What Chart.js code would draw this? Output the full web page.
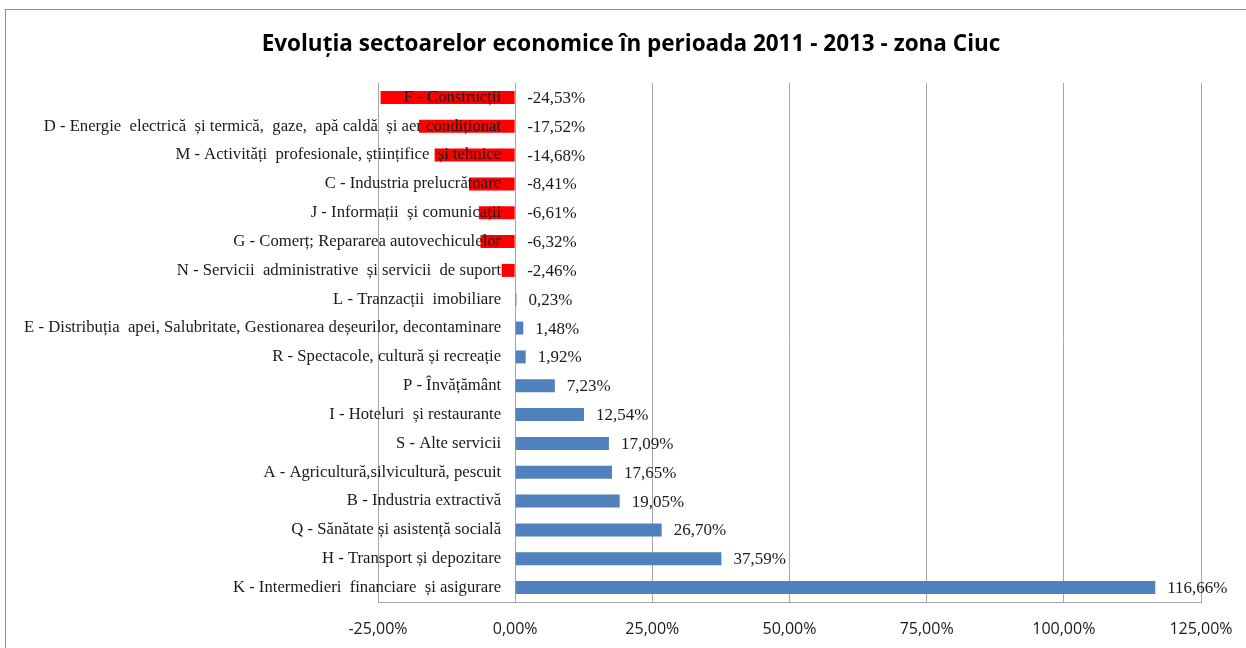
<!DOCTYPE html>
<html>
<head>
<meta charset="utf-8">
<script src="https://cdn.jsdelivr.net/npm/chart.js@4/dist/chart.umd.min.js"></script>
<style>
  html, body { margin: 0; padding: 0; background: #fff; }
  #wrap { position: relative; width: 1246px; height: 648px; overflow: hidden; }
</style>
</head>
<body>
<div id="wrap"><canvas id="c" width="1246" height="648"></canvas></div>
<script>
/* sector change 2011-2013, zona Ciuc */
const sectors = [
  'F - Construcții',
  'D - Energie  electrică  și termică,  gaze,  apă caldă  și aer condiționat',
  'M - Activități  profesionale, științifice  și tehnice',
  'C - Industria prelucrătoare',
  'J - Informații  și comunicații',
  'G - Comerț; Repararea autovechiculelor',
  'N - Servicii  administrative  și servicii  de suport',
  'L - Tranzacții  imobiliare',
  'E - Distribuția  apei, Salubritate, Gestionarea deșeurilor, decontaminare',
  'R - Spectacole, cultură și recreație',
  'P - Învățământ',
  'I - Hoteluri  și restaurante',
  'S - Alte servicii',
  'A - Agricultură,silvicultură, pescuit',
  'B - Industria extractivă',
  'Q - Sănătate și asistență socială',
  'H - Transport și depozitare',
  'K - Intermedieri  financiare  și asigurare'
];
const change = [-24.53, -17.52, -14.68, -8.41, -6.61, -6.32, -2.46,
                0.23, 1.48, 1.92, 7.23, 12.54, 17.09, 17.65, 19.05, 26.70, 37.59, 116.66];
const xTicks = [-25, 0, 25, 50, 75, 100, 125];

const pct = v => v.toFixed(2).replace('.', ',') + '%';

// labels sit left of the 0 line, values right of the bar end
const labelPlugin = {
  id: 'labels',
  beforeDraw(ch) {
    const c = ch.ctx;
    c.save();
    c.strokeStyle = '#8c8c8c';
    c.lineWidth = 1;
    c.strokeRect(5.5, 9.5, 1400, 800);
    c.restore();
  },
  afterDatasetsDraw(ch) {
    const c = ch.ctx, xs = ch.scales.x, ys = ch.scales.y;
    const x0 = xs.getPixelForValue(0);
    c.save();
    c.fillStyle = '#1a1a1a';
    c.textBaseline = 'middle';
    sectors.forEach((s, i) => {
      const y = ys.getPixelForValue(i);
      c.font = '16.7px "Liberation Serif", "Times New Roman", serif';
      c.textAlign = 'right';
      c.fillText(s, x0 - 14, y);
      c.font = '17px "Liberation Serif", "Times New Roman", serif';
      c.textAlign = 'left';
      c.fillText(pct(change[i]), xs.getPixelForValue(Math.max(change[i], 0)) + 12, y + 1);
    });
    // title
    c.font = 'bold 22.5px "Open Sans", Lato, sans-serif';
    c.fillStyle = '#000';
    c.textAlign = 'center';
    c.fillText('Evoluția sectoarelor economice în perioada 2011 - 2013 - zona Ciuc', 631, 45);
    c.restore();
  }
};

new Chart(document.getElementById('c'), {
  type: 'bar',
  data: {
    labels: sectors,
    datasets: [{
      data: change,
      backgroundColor: change.map(v => v < 0 ? '#ff0000' : '#4f81bd'),
      barPercentage: 0.5,
      categoryPercentage: 0.9
    }]
  },
  options: {
    indexAxis: 'y',
    responsive: false,
    animation: false,
    layout: { padding: { left: 378, right: 45, top: 83, bottom: 0 } },
    scales: {
      x: {
        min: -25, max: 125,
        afterBuildTicks: s => { s.ticks = xTicks.map(v => ({ value: v })); },
        afterFit: s => { s.height = 46; s.paddingLeft = 0; s.paddingRight = 0; },
        grid: { color: '#a6a6a6', drawTicks: false },
        border: { color: '#a6a6a6' },
        ticks: {
          padding: 18,
          color: '#1a1a1a',
          font: { family: '"Open Sans", Lato, sans-serif', size: 16 },
          callback: v => pct(v)
        }
      },
      y: { display: false }
    },
    plugins: { legend: { display: false }, tooltip: { enabled: false } }
  },
  plugins: [labelPlugin]
});
</script>
</body>
</html>
